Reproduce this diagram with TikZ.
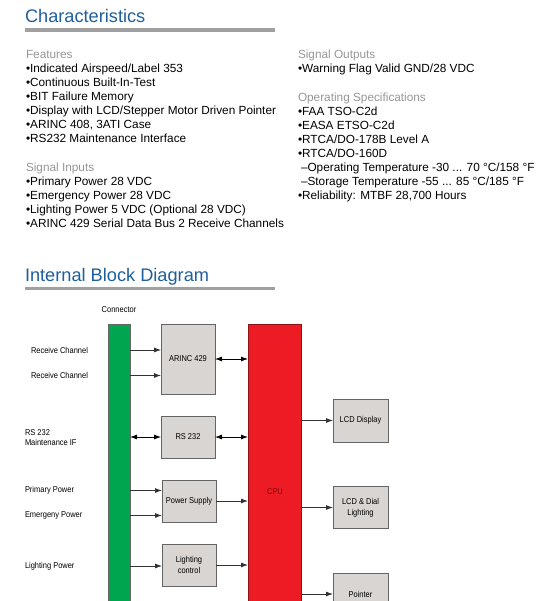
\documentclass[tikz,border=0pt]{standalone}
\usepackage{fontspec}
\setmainfont{Liberation Sans}
\newfontfamily\narrowfont[FakeStretch=0.88]{Liberation Sans}
\usetikzlibrary{arrows.meta}
\definecolor{headblue}{RGB}{30,95,155}
\definecolor{subgray}{RGB}{150,150,150}
\definecolor{rulegray}{RGB}{160,160,160}
\definecolor{conngreen}{RGB}{0,165,80}
\definecolor{cpured}{RGB}{237,28,36}
\definecolor{cputext}{RGB}{120,10,15}
\definecolor{boxfill}{RGB}{216,213,210}
\definecolor{boxedge}{RGB}{100,100,100}
\begin{document}
\begin{tikzpicture}[x=1pt,y=-1pt,
  every node/.style={inner sep=0pt,outer sep=0pt},
  heading/.style={anchor=base west,font=\fontsize{18.2}{21}\selectfont,text=headblue},
  subhead/.style={anchor=base west,font=\fontsize{11.8}{14}\selectfont,text=subgray},
  item/.style={anchor=base west,font=\fontsize{11.8}{14}\selectfont},
  sig/.style={anchor=west,align=left,font=\narrowfont\fontsize{8.5}{10.5}\selectfont},
  block/.style={draw=boxedge,fill=boxfill,line width=0.7pt,minimum width=54pt,minimum height=42pt,align=center,font=\narrowfont\fontsize{8.5}{11}\selectfont},
  flow/.style={-{Latex[length=7pt,width=5pt]},line width=0.8pt,draw=black!80},
  both/.style={{Latex[length=7pt,width=5pt]}-{Latex[length=7pt,width=5pt]},line width=0.8pt}]
  \useasboundingbox (0,0) rectangle (550,601);

  % Characteristics
  \node[heading] (chartitle) at (25,23) {Characteristics};
  \draw[rulegray,line width=3.5pt] (25,30) -- (275,30);

  % Features and Signal Inputs
  \node[subhead] (feat) at (26,59) {Features};
  \foreach \txt [count=\i] in {Indicated Airspeed/Label 353, Continuous Built-In-Test,
      BIT Failure Memory, Display with LCD/Stepper Motor Driven Pointer,
      {ARINC 408, 3ATI Case}, RS232 Maintenance Interface}
    \node[item] (feat\i) at (26,59+14*\i) {•\txt};
  \node[subhead] (sigin) at (26,172) {Signal Inputs};
  \foreach \txt [count=\i] in {Primary Power 28 VDC, Emergency Power 28 VDC,
      Lighting Power 5 VDC (Optional 28 VDC), ARINC 429 Serial Data Bus 2 Receive Channels}
    \node[item] (sigin\i) at (26,172+14*\i) {•\txt};

  % Signal Outputs and Operating Specifications
  \node[subhead] (sigout) at (298,59) {Signal Outputs};
  \node[item] (sigout1) at (298,73) {•Warning Flag Valid GND/28 VDC};
  \node[subhead] (opspec) at (298,102) {Operating Specifications};
  \node[item] (opspec1) at (298,116) {•FAA TSO-C2d};
  \node[item] (opspec2) at (298,130) {•EASA ETSO-C2d};
  \node[item] (opspec3) at (298,144) {•RTCA/DO-178B Level A};
  \node[item] (opspec4) at (298,158) {•RTCA/DO-160D};
  \node[item] (opspec5) at (301,172) {–Operating Temperature -30 ... 70 °C/158 °F};
  \node[item] (opspec6) at (301,186) {–Storage Temperature -55 ... 85 °C/185 °F};
  \node[item] (opspec7) at (298,200) {•Reliability: MTBF 28,700 Hours};

  % Internal Block Diagram
  \node[heading] (ibdtitle) at (25,281) {Internal Block Diagram};
  \draw[rulegray,line width=3.5pt] (25,288.5) -- (275,288.5);

  % Connector and CPU bars
  \node[sig,anchor=center] (conntitle) at (119,310) {Connector};
  \node[draw=black!60,fill=conngreen,line width=0.7pt,minimum width=22pt,minimum height=300pt,anchor=north west] (conn) at (108,324) {};
  \node[draw=cpured!60!black,fill=cpured,line width=0.7pt,minimum width=53pt,minimum height=300pt,anchor=north west] (cpu) at (248,324) {};
  \node[font=\narrowfont\fontsize{8.5}{10}\selectfont,text=cputext] (cputxt) at (275,492) {CPU};

  % Blocks
  \node[block,minimum height=70pt] (arinc) at (188,359) {ARINC 429};
  \node[block] (rs) at (188,437) {RS 232};
  \node[block] (psu) at (189,501) {Power Supply};
  \node[block] (lightctl) at (189,565) {Lighting\\control};
  \node[block,minimum width=55pt,minimum height=43pt] (lcd) at (360.5,420.5) {LCD Display};
  \node[block,minimum width=55pt] (dial) at (360.5,507.5) {LCD \& Dial\\Lighting};
  \node[block,minimum width=55pt] (ptr) at (360.5,594) {Pointer};

  % Signal labels
  \node[sig] (rx1) at (31,350) {Receive Channel};
  \node[sig] (rx2) at (31,375.5) {Receive Channel};
  \node[sig] (rsif) at (25,437.5) {RS 232\\Maintenance IF};
  \node[sig] (prim) at (25,490.5) {Primary Power};
  \node[sig] (emer) at (25,515.5) {Emergeny Power};
  \node[sig] (lpow) at (25,566) {Lighting Power};

  % Connectors
  \foreach \lbl/\blk in {rx1/arinc, rx2/arinc, prim/psu, emer/psu, lpow/lightctl}
    \draw[flow] (conn.east |- \lbl) -- (\blk.west |- \lbl);
  \draw[both] (conn.east |- rs.west) -- (rs.west);
  \foreach \blk in {arinc, rs}
    \draw[both] (\blk.east) -- (cpu.west |- \blk.east);
  \foreach \blk in {psu, lightctl}
    \draw[flow] (\blk.east) -- (cpu.west |- \blk.east);
  \foreach \blk in {lcd, dial, ptr}
    \draw[flow] (cpu.east |- \blk.west) -- (\blk.west);
\end{tikzpicture}
\end{document}
